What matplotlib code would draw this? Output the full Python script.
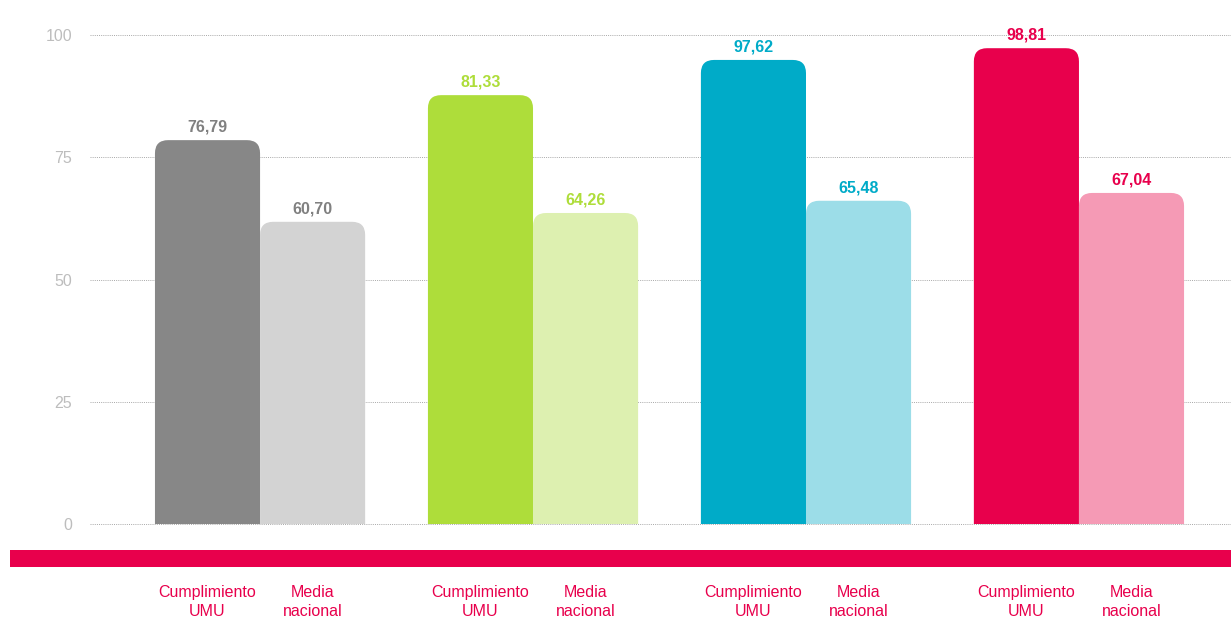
import numpy as np
import matplotlib
matplotlib.use("Agg")
import matplotlib.pyplot as plt
from matplotlib.patches import FancyBboxPatch, Rectangle

plt.rcParams['font.family'] = ['Liberation Sans', 'DejaVu Sans']

# values as drawn in the picture (bar heights) and the printed labels
groups = ['A', 'B', 'C', 'D']
umu_heights = [78.5, 87.7, 94.9, 97.3]
nac_heights = [61.8, 63.6, 66.1, 67.7]
umu_labels = ['76,79', '81,33', '97,62', '98,81']
nac_labels = ['60,70', '64,26', '65,48', '67,04']
series_names = ['Cumplimiento\nUMU', 'Media\nnacional']
yticks = [0, 25, 50, 75, 100]

umu_colors = ['#878787', '#aedd3a', '#00abc8', '#e8004c']
nac_colors = ['#d3d3d3', '#ddf0b0', '#9cdde8', '#f59ab5']
text_colors = ['#808080', '#aedd3a', '#00abc8', '#e8004c']
pink = '#e8004c'

fig = plt.figure(figsize=(12.31, 6.17), dpi=100)
ax = fig.add_axes([90 / 1231, (617 - 524) / 617, 1141 / 1231, 489 / 617])

x = np.arange(len(groups))
w = 0.385
bars_u = ax.bar(x - w / 2, umu_heights, w, color=umu_colors)
bars_n = ax.bar(x + w / 2, nac_heights, w, color=nac_colors)

ax.set_xlim(-0.623, 3.557)
ax.set_ylim(0, 100)

# replace plain rectangles with top-rounded ones
aspect = 273 / 4.89
for b in list(bars_u) + list(bars_n):
    bx, bw, bh = b.get_x(), b.get_width(), b.get_height()
    p = FancyBboxPatch((bx, -10), bw, bh + 10,
                       boxstyle="round,pad=0,rounding_size=0.048",
                       mutation_aspect=aspect, facecolor=b.get_facecolor(),
                       edgecolor='none', zorder=2, clip_on=True)
    b.set_visible(False)
    ax.add_patch(p)

for i in range(len(groups)):
    ax.annotate(umu_labels[i], (x[i] - w / 2, umu_heights[i]), xytext=(0, 6),
                textcoords='offset points', ha='center', va='baseline',
                fontsize=11.5, fontweight='bold', color=text_colors[i])
    ax.annotate(nac_labels[i], (x[i] + w / 2, nac_heights[i]), xytext=(0, 6),
                textcoords='offset points', ha='center', va='baseline',
                fontsize=11.5, fontweight='bold', color=text_colors[i])

ax.set_yticks(yticks)
ax.set_yticklabels([str(t) for t in yticks])
ax.tick_params(axis='y', length=0, pad=13, labelsize=11.5, labelcolor='#bdbdbd')
ax.grid(axis='y', linestyle=(0, (1, 1.2)), color='#a8a8a8', linewidth=0.7, zorder=0)
ax.axhline(0, linestyle=(0, (1, 1.2)), color='#a8a8a8', linewidth=0.7,
           zorder=1, clip_on=False)
ax.set_axisbelow(True)

centers = np.concatenate([x - w / 2, x + w / 2])
names = [series_names[0]] * len(groups) + [series_names[1]] * len(groups)
ax.set_xticks(centers)
ax.set_xticklabels(names, linespacing=1.3)
ax.tick_params(axis='x', length=0, pad=44, labelsize=11.5, labelcolor=pink)

for s in ax.spines.values():
    s.set_visible(False)

# pink band under the chart
fig.patches.append(Rectangle((10 / 1231, (617 - 567) / 617), 1 - 10 / 1231, 17 / 617,
                             transform=fig.transFigure, facecolor=pink,
                             edgecolor='none'))

fig.savefig('out.png', dpi=100, facecolor='white')
